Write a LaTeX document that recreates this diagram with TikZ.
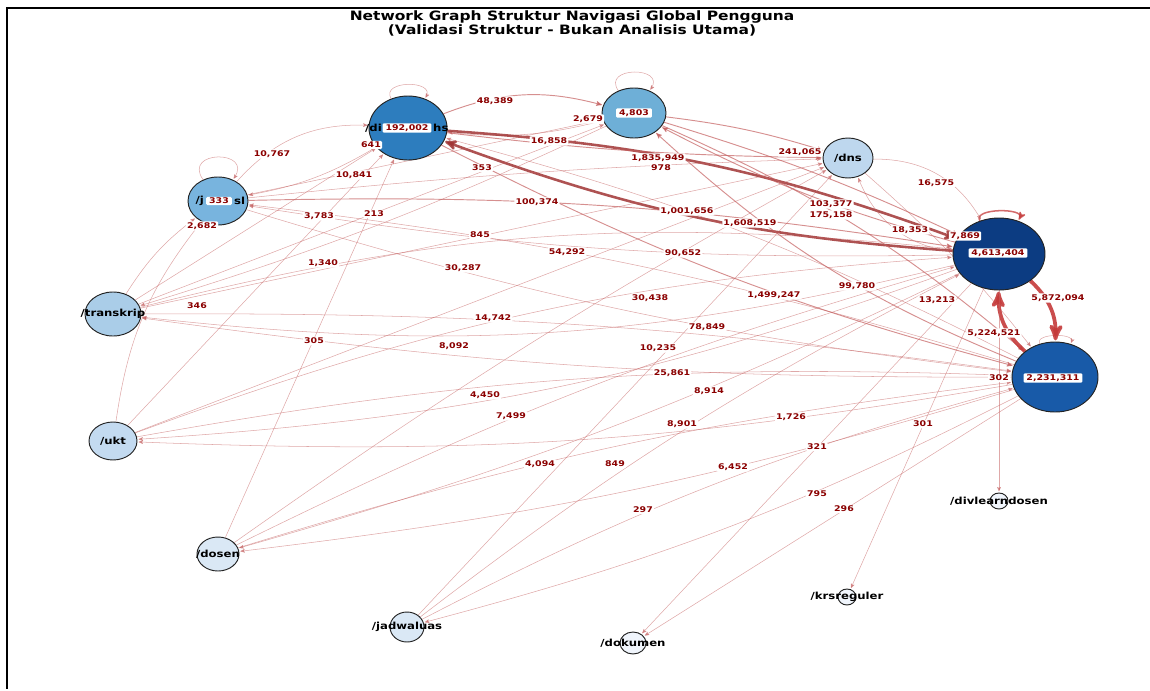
\documentclass[tikz,border=0pt]{standalone}
\usepackage{fontspec}
\setmainfont{DejaVu Sans}
\usepackage{graphicx}
\usetikzlibrary{arrows,shapes.geometric}
\pgfdeclarelayer{background}
\pgfsetlayers{background,main}

\definecolor{edgered}{RGB}{196,96,96}
\definecolor{darkedge}{RGB}{160,52,52}
\definecolor{loopred}{RGB}{196,58,58}
\definecolor{labred}{RGB}{139,0,0}
\definecolor{rim}{RGB}{35,35,35}
\definecolor{cmhs}{RGB}{45,125,190}
\definecolor{ckrs}{RGB}{110,175,215}
\definecolor{cdns}{RGB}{190,215,238}
\definecolor{cjad}{RGB}{120,180,222}
\definecolor{chub}{RGB}{12,60,130}
\definecolor{chub2}{RGB}{24,90,168}
\definecolor{ctrans}{RGB}{170,205,232}
\definecolor{cukt}{RGB}{195,218,240}
\definecolor{cpale}{RGB}{218,232,245}
\definecolor{cleaf}{RGB}{240,245,252}

\newcommand{\wide}[1]{\scalebox{1.2}[1]{#1}}

\tikzset{
  page node/.style 2 args={ellipse,draw=rim,line width=0.8pt,inner sep=0pt,
    minimum width=#1*0.06cm,minimum height=#2*0.06cm},
  name text/.style={font=\fontsize{8.3}{9}\selectfont\bfseries,text=black},
  count/.style={fill=white,inner sep=1pt,rounded corners=1pt,text=labred,
    font=\fontsize{6.7}{7}\selectfont\bfseries},
  thin link/.style={draw=edgered,opacity=.55,line width=.45pt},
  mid link/.style={draw=edgered,opacity=.7,line width=.8pt},
  wide link/.style={draw=darkedge,opacity=.75,line width=1.3pt},
  heavy link/.style={draw=darkedge,opacity=.85,line width=2.2pt},
  top link/.style={draw=loopred,opacity=.9,line width=3.2pt}
}

\begin{document}
\begin{tikzpicture}[x=0.03cm,y=-0.03cm,->,>=stealth',shorten >=1pt]

  \useasboundingbox (0,0) rectangle (1150,690);
  \draw[-,line width=1.2pt] (1150,8) -- (7,8) -- (7,690);

  \node[font=\fontsize{11}{12}\selectfont\bfseries,align=center] (title) at (572,23)
    {\wide{Network Graph Struktur Navigasi Global Pengguna}\\
     \wide{(Validasi Struktur - Bukan Analisis Utama)}};

  \node[page node={39}{32},fill=cmhs] (1) at (408,128) {};
  \node[page node={32}{25},fill=ckrs] (2) at (634,113) {};
  \node[page node={25}{20},fill=cdns,label={[name text]center:\wide{/dns}}] (3) at (848,158) {};
  \node[page node={30}{24},fill=cjad] (4) at (218,201) {};
  \node[page node={46}{36},fill=chub] (5) at (999,254) {};
  \node[page node={43}{35},fill=chub2] (6) at (1055,377) {};
  \node[page node={28}{22},fill=ctrans,label={[name text]center:\wide{/transkrip}}] (7) at (113,314) {};
  \node[page node={24}{19},fill=cukt,label={[name text]center:\wide{/ukt}}] (8) at (113,441) {};
  \node[page node={21}{17},fill=cpale,label={[name text]center:\wide{/dosen}}] (9) at (218,554) {};
  \node[page node={17}{15},fill=cpale,label={[name text]center:\wide{/jadwaluas}}] (10) at (407,627) {};
  \node[page node={13}{11},fill=cleaf,label={[name text]center:\wide{/dokumen}}] (11) at (633,643) {};
  \node[page node={9}{8},fill=cleaf,label={[name text]center:\wide{/krsreguler}}] (12) at (847,597) {};
  \node[page node={9}{8},fill=cleaf,label={[name text]center:\wide{/divlearndosen}}] (13) at (999,501) {};

  % name parts left visible beside the loop counts
  \node[name text,anchor=east,inner sep=0pt] (1l) at (382,128) {\wide{/di}};
  \node[name text,anchor=west,inner sep=0pt] (1r) at (433,128) {\wide{hs}};
  \node[name text,anchor=east,inner sep=0pt] (4l) at (204,201) {\wide{/j}};
  \node[name text,anchor=west,inner sep=0pt] (4r) at (234,201) {\wide{sl}};

  \begin{pgfonlayer}{background}
  \path
    (1) edge[thin link,loop,out=120,in=60,min distance=0.65cm] (1)
    (2) edge[thin link,loop,out=125,in=55,min distance=0.9cm] (2)
    (4) edge[thin link,loop,out=125,in=55,min distance=1.1cm] (4)
    (5) edge[wide link,draw=loopred,loop,out=120,in=60,min distance=0.2cm] (5)
    (6) edge[thin link,loop,out=115,in=65,min distance=0.3cm] (6)
    (1) edge[mid link,bend left=18] (2)
    (2) edge[thin link,bend left=10] (1)
    (1) edge[heavy link,bend left=8] (5)
    (5) edge[heavy link,bend left=8] (1)
    (1) edge[mid link,bend right=6] (6)
    (6) edge[thin link,bend right=6] (1)
    (1) edge[mid link,bend right=3] (3)
    (4) edge[thin link,bend left=25] (1)
    (1) edge[thin link,bend left=10] (4)
    (4) edge[thin link] (2)
    (4) edge[thin link,bend left=2] (3)
    (2) edge[mid link,bend left=5] (3)
    (2) edge[mid link,bend left=4] (5)
    (5) edge[mid link,bend left=6] (2)
    (2) edge[mid link,bend left=8] (6)
    (6) edge[mid link,bend left=10] (2)
    (3) edge[thin link,bend left=30] (5)
    (5) edge[thin link,bend left=30] (3)
    (3) edge[thin link,bend left=5] (6)
    (5) edge[top link,bend left=25] (6)
    (6) edge[top link,bend left=25] (5)
    (4) edge[mid link,bend left=5] (5)
    (5) edge[thin link,bend left=5] (4)
    (4) edge[thin link,bend right=5] (6)
    (6) edge[thin link,bend right=5] (4)
    (7) edge[thin link,bend left=10] (4)
    (8) edge[thin link,bend left=15] (4)
    (7) edge[thin link] (1)
    (8) edge[thin link] (1)
    (9) edge[thin link] (1)
    (7) edge[thin link] (2)
    (2) edge[thin link,bend left=4] (7)
    (7) edge[thin link] (3)
    (8) edge[thin link] (3)
    (7) edge[thin link,bend left=10] (5)
    (5) edge[thin link,bend left=10] (7)
    (7) edge[thin link,bend left=4] (6)
    (6) edge[thin link,bend left=4] (7)
    (8) edge[thin link,bend left=8] (5)
    (5) edge[thin link,bend left=8] (8)
    (8) edge[thin link,bend left=6] (6)
    (6) edge[thin link,bend left=6] (8)
    (9) edge[thin link,bend left=3] (3)
    (9) edge[thin link,bend left=5] (5)
    (5) edge[thin link,bend left=5] (9)
    (9) edge[thin link,bend left=5] (6)
    (6) edge[thin link,bend left=5] (9)
    (10) edge[thin link] (3)
    (10) edge[thin link,bend left=5] (5)
    (10) edge[thin link,bend left=6] (6)
    (6) edge[thin link,bend left=6] (10)
    (5) edge[thin link] (11)
    (6) edge[thin link] (11)
    (5) edge[thin link] (12)
    (5) edge[thin link] (13);
  \end{pgfonlayer}

  % transition counts
  \foreach \px/\py/\txt [count=\i] in {495/101/{48,389}, 588/119/{2,679}, 272/154/{10,767},
      371/145/641, 549/141/{16,858}, 354/175/{10,841}, 658/158/{1,835,949}, 661/168/978,
      800/152/{241,065}, 482/168/353, 936/183/{16,575}, 319/216/{3,783}, 374/214/213,
      202/226/{2,682}, 537/202/{100,374}, 687/211/{1,001,656}, 750/223/{1,608,519},
      831/204/{103,377}, 831/215/{175,158}, 910/230/{18,353}, 965/236/{7,869}, 480/235/845,
      323/263/{1,340}, 463/268/{30,287}, 567/252/{54,292}, 683/253/{90,652}, 197/306/346,
      650/298/{30,438}, 774/295/{1,499,247}, 857/286/{99,780}, 1058/298/{5,872,094},
      937/300/{13,213}, 493/318/{14,742}, 994/333/{5,224,521}, 314/341/305, 454/346/{8,092},
      707/327/{78,849}, 658/348/{10,235}, 672/373/{25,861}, 709/391/{8,914}, 999/378/302,
      485/395/{4,450}, 511/416/{7,499}, 682/424/{8,901}, 791/417/{1,726}, 923/424/301,
      817/447/321, 540/464/{4,094}, 615/464/849, 733/467/{6,452}, 817/494/795,
      844/509/296, 643/510/297}
    \node[count] (c\i) at (\px,\py) {\wide{\txt}};

  % self-loop counts
  \foreach \px/\py/\txt [count=\i] in {407/128/{192,002}, 219/201/333, 634/113/{4,803},
      998/253/{4,613,404}, 1053/378/{2,231,311}}
    \node[count,inner xsep=2.5pt] (s\i) at (\px,\py) {\wide{\txt}};
\end{tikzpicture}
\end{document}
